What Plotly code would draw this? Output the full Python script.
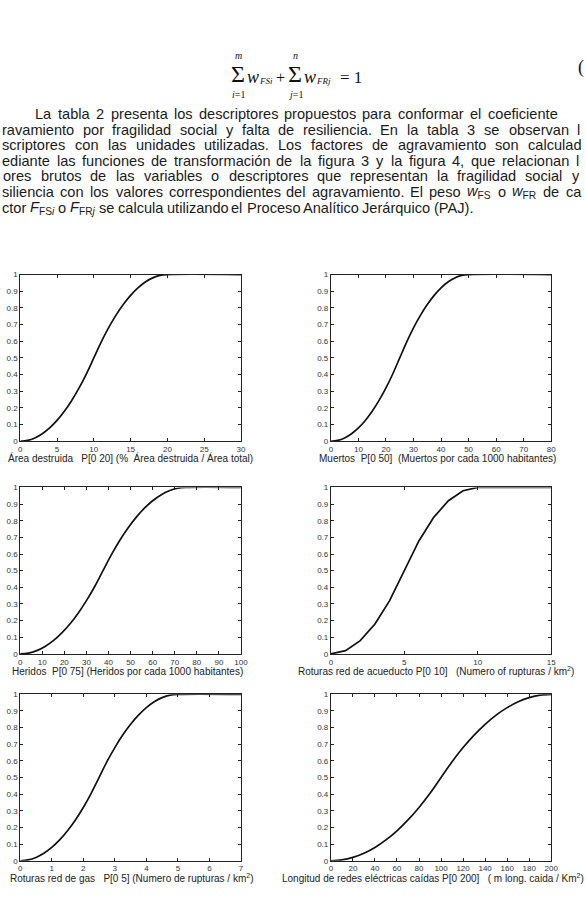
import re
import plotly.graph_objects as go

# ---------------- data ----------------
area_x = [0, 1, 2, 3, 4, 5, 6, 7, 8, 9, 10, 11, 12, 13, 14, 15, 16, 17, 18, 19, 20, 30]
area_y = [0, 0.005, 0.02, 0.045, 0.08, 0.125, 0.18, 0.245, 0.32, 0.405, 0.5,
          0.595, 0.68, 0.755, 0.82, 0.875, 0.92, 0.955, 0.98, 0.995, 1, 1]

muertos_x = [0, 2.5, 5, 7.5, 10, 12.5, 15, 17.5, 20, 22.5, 25, 27.5, 30, 32.5, 35,
             37.5, 40, 42.5, 45, 47.5, 50, 80]
muertos_y = [0, 0.005, 0.02, 0.045, 0.08, 0.125, 0.18, 0.245, 0.32, 0.405, 0.5,
             0.595, 0.68, 0.755, 0.82, 0.875, 0.92, 0.955, 0.98, 0.995, 1, 1]

heridos_x = [0, 3.75, 7.5, 11.25, 15, 18.75, 22.5, 26.25, 30, 33.75, 37.5, 41.25,
             45, 48.75, 52.5, 56.25, 60, 63.75, 67.5, 71.25, 75, 100]
heridos_y = [0, 0.005, 0.02, 0.045, 0.08, 0.125, 0.18, 0.245, 0.32, 0.405, 0.5,
             0.595, 0.68, 0.755, 0.82, 0.875, 0.92, 0.955, 0.98, 0.995, 1, 1]

acueducto_x = [0, 1, 2, 3, 4, 5, 6, 7, 8, 9, 10, 15]
acueducto_y = [0, 0.02, 0.08, 0.18, 0.32, 0.5, 0.68, 0.82, 0.92, 0.98, 1, 1]

gas_x = [0, 0.25, 0.5, 0.75, 1, 1.25, 1.5, 1.75, 2, 2.25, 2.5, 2.75, 3, 3.25, 3.5,
         3.75, 4, 4.25, 4.5, 4.75, 5, 7]
gas_y = [0, 0.005, 0.02, 0.045, 0.08, 0.125, 0.18, 0.245, 0.32, 0.405, 0.5,
         0.595, 0.68, 0.755, 0.82, 0.875, 0.92, 0.955, 0.98, 0.995, 1, 1]

redes_x = [0, 10, 20, 30, 40, 50, 60, 70, 80, 90, 100, 110, 120, 130, 140, 150,
           160, 170, 180, 190, 200]
redes_y = [0, 0.005, 0.02, 0.045, 0.08, 0.125, 0.18, 0.245, 0.32, 0.405, 0.5,
           0.595, 0.68, 0.755, 0.82, 0.875, 0.92, 0.955, 0.98, 0.995, 1]

y_ticks = [0, 0.1, 0.2, 0.3, 0.4, 0.5, 0.6, 0.7, 0.8, 0.9, 1]
y_tick_labels = ["0", "0.1", "0.2", "0.3", "0.4", "0.5", "0.6", "0.7", "0.8", "0.9", "1"]

area_ticks = [0, 5, 10, 15, 20, 25, 30]
muertos_ticks = [0, 10, 20, 30, 40, 50, 60, 70, 80]
heridos_ticks = [0, 10, 20, 30, 40, 50, 60, 70, 80, 90, 100]
acueducto_ticks = [0, 5, 10, 15]
gas_ticks = [0, 1, 2, 3, 4, 5, 6, 7]
redes_ticks = [0, 20, 40, 60, 80, 100, 120, 140, 160, 180, 200]

titles = [
    "Área destruida\u00a0\u00a0 P[0 20] (%\u00a0 Área destruida / Área total)",
    "Muertos\u00a0 P[0 50]\u00a0 (Muertos por cada 1000 habitantes)",
    "Heridos\u00a0 P[0 75] (Heridos por cada 1000 habitantes)",
    "Roturas red de acueducto P[0 10]\u00a0\u00a0 (Numero of rupturas / km<sup>2</sup>)",
    "Roturas red de gas\u00a0\u00a0 P[0 5] (Numero de rupturas / km<sup>2</sup>)",
    "Longitud de redes eléctricas caídas P[0 200]\u00a0\u00a0 ( m long. caida / Km<sup>2</sup>)",
]

paragraph_lines = [
    "La tabla 2 presenta los descriptores propuestos para conformar el coeficiente",
    "ravamiento por fragilidad social y falta de resiliencia. En la tabla 3 se observan l",
    "scriptores con las unidades utilizadas. Los factores de agravamiento son calculad",
    "ediante las funciones de transformación de la figura 3 y la figura 4, que relacionan l",
    "ores brutos de las variables o descriptores que representan la fragilidad social y",
    "siliencia con los valores correspondientes del agravamiento. El peso <i>w</i><sub>FS</sub> o <i>w</i><sub>FR</sub> de ca",
    "ctor <i>F</i><sub>FS<i>i</i></sub> o <i>F</i><sub>FR<i>j</i></sub> se calcula utilizando el Proceso Analítico Jerárquico (PAJ).",
]

# ---------------- layout helpers ----------------
W, H = 586, 899
def px(x):
    return x / W
def py(y):
    return 1 - y / H

AW = {' ': 278, '%': 889, '(': 333, ')': 333, ',': 278, '-': 333, '.': 278, '/': 278,
      ':': 278, '=': 584, '[': 278, ']': 278}
for d in '0123456789':
    AW[d] = 556
AW.update(dict(A=667, B=667, C=722, D=722, E=667, F=611, G=778, H=722, I=278, J=500,
               K=667, L=556, M=833, N=722, O=778, P=667, Q=778, R=722, S=667, T=611,
               U=722, V=667, W=944, X=667, Y=667, Z=611))
AW.update(dict(a=556, b=556, c=500, d=556, e=556, f=278, g=556, h=556, i=222, j=222,
               k=500, l=222, m=833, n=556, o=556, p=556, q=556, r=333, s=500, t=278,
               u=556, v=500, w=722, x=500, y=500, z=500))
AW.update({'á': 556, 'é': 556, 'í': 278, 'ó': 556, 'ú': 556, 'ñ': 556, 'Á': 667})

def text_width(s, size):
    total, scale = 0.0, 1.0
    for tok in re.split(r'(<[^>]+>)', s):
        if tok.startswith('<'):
            if tok == '<sub>':
                scale = 0.7
            elif tok == '</sub>':
                scale = 1.0
            continue
        for ch in tok:
            total += AW.get(ch, 556) * scale
    return total / 1000.0 * size

fig = go.Figure()

# ---------------- charts ----------------
cols = [(18.5, 242.7), (334.0, 557.8)]
rows = [(273.3, 441.7), (488.3, 656.5), (697.3, 865.4)]
series = [
    (area_x, area_y, area_ticks, [0, 30], 'spline'),
    (muertos_x, muertos_y, muertos_ticks, [0, 80], 'spline'),
    (heridos_x, heridos_y, heridos_ticks, [0, 100], 'spline'),
    (acueducto_x, acueducto_y, acueducto_ticks, [0, 15], 'linear'),
    (gas_x, gas_y, gas_ticks, [0, 7], 'spline'),
    (redes_x, redes_y, redes_ticks, [0, 200], 'spline'),
]
title_pos = [(130, 459), (442, 459), (127, 674), (441, 674), (131.5, 883), (437.5, 883)]

tick_font = dict(family="Liberation Sans, Arial, sans-serif", size=8, color="#333")
axis_common = dict(showgrid=False, zeroline=False, showline=True, linecolor="#222",
                   linewidth=1, mirror="ticks", ticks="inside", ticklen=3,
                   tickcolor="#222", tickwidth=1, tickfont=tick_font)

layout_axes = {}
for k, (xs, ys, xt, xr, shape) in enumerate(series):
    r, c = divmod(k, 2)
    x0, x1 = cols[c]
    yt, yb = rows[r]
    n = '' if k == 0 else str(k + 1)
    fig.add_trace(go.Scatter(x=xs, y=ys, mode='lines',
                             line=dict(color='#111', width=1.7, shape=shape, smoothing=1),
                             xaxis='x' + n, yaxis='y' + n, showlegend=False,
                             hoverinfo='skip'))
    layout_axes['xaxis' + n] = dict(domain=[px(x0), px(x1)], range=xr, anchor='y' + n,
                                    tickmode='array', tickvals=xt,
                                    ticktext=[str(v) for v in xt], **axis_common)
    layout_axes['yaxis' + n] = dict(domain=[py(yb), py(yt)], range=[0, 1], anchor='x' + n,
                                    tickmode='array', tickvals=y_ticks,
                                    ticktext=y_tick_labels, **axis_common)

annotations = []
for (cx, cy), t in zip(title_pos, titles):
    annotations.append(dict(x=px(cx), y=py(cy), xref='paper', yref='paper', text=t,
                            showarrow=False, xanchor='center', yanchor='middle',
                            borderpad=0, borderwidth=0,
                            font=dict(family="Liberation Sans, Arial, sans-serif",
                                      size=10, color="#222")))

# ---------------- paragraph (justified word placement) ----------------
FS = 14.6
pfont = dict(family="Liberation Sans, Arial, sans-serif", size=FS, color="#1a1a1a")
line_specs = [(34, 563, True), (0.5, 587, True), (0.5, 588, True), (0.5, 586, True),
              (1.0, 586, True), (0.5, 588, True), (0.5, None, False)]
y0, dy = 111, 15.8
for i, (line, (xs_, xe_, just)) in enumerate(zip(paragraph_lines, line_specs)):
    words = line.split(' ')
    widths = [text_width(wd, FS) for wd in words]
    space = AW[' '] / 1000 * FS
    if just and len(words) > 1:
        gap = (xe_ - xs_ - sum(widths)) / (len(words) - 1)
    else:
        gap = space
    xpos = xs_
    for wd, wdw in zip(words, widths):
        annotations.append(dict(x=px(xpos), y=py(y0 + i * dy), xref='paper', yref='paper',
                                text=wd, showarrow=False, xanchor='left', yanchor='middle',
                                borderpad=0, borderwidth=0, font=pfont))
        xpos += wdw + gap

# ---------------- formula ----------------
serif = "Liberation Serif, Times New Roman, serif"
def fa(x, y, text, size, anchor='center'):
    annotations.append(dict(x=px(x), y=py(y), xref='paper', yref='paper', text=text,
                            showarrow=False, xanchor=anchor, yanchor='middle',
                            borderpad=0, borderwidth=0,
                            font=dict(family=serif, size=size, color="#111")))

fa(240, 71, "Σ", 24)
fa(240, 52, "<i>m</i>", 10)
fa(240, 91, "<i>i</i>=1", 10)
fa(249, 74, "<i>w</i>", 18, 'left')
fa(261, 78, "<i>FSi</i>", 9, 'left')
fa(283, 74, "+", 16)
fa(298, 71, "Σ", 24)
fa(298, 52, "<i>n</i>", 10)
fa(298, 91, "<i>j</i>=1", 10)
fa(307, 74, "<i>w</i>", 18, 'left')
fa(319, 78, "<i>FRj</i>", 9, 'left')
fa(343, 74, "= 1", 17, 'left')
fa(585, 64, "(", 18, 'left')

fig.update_layout(width=W, height=H, autosize=False,
                  margin=dict(l=0, r=0, t=0, b=0, pad=0),
                  paper_bgcolor='white', plot_bgcolor='white',
                  annotations=annotations, **layout_axes)

fig.write_html("out.html")
